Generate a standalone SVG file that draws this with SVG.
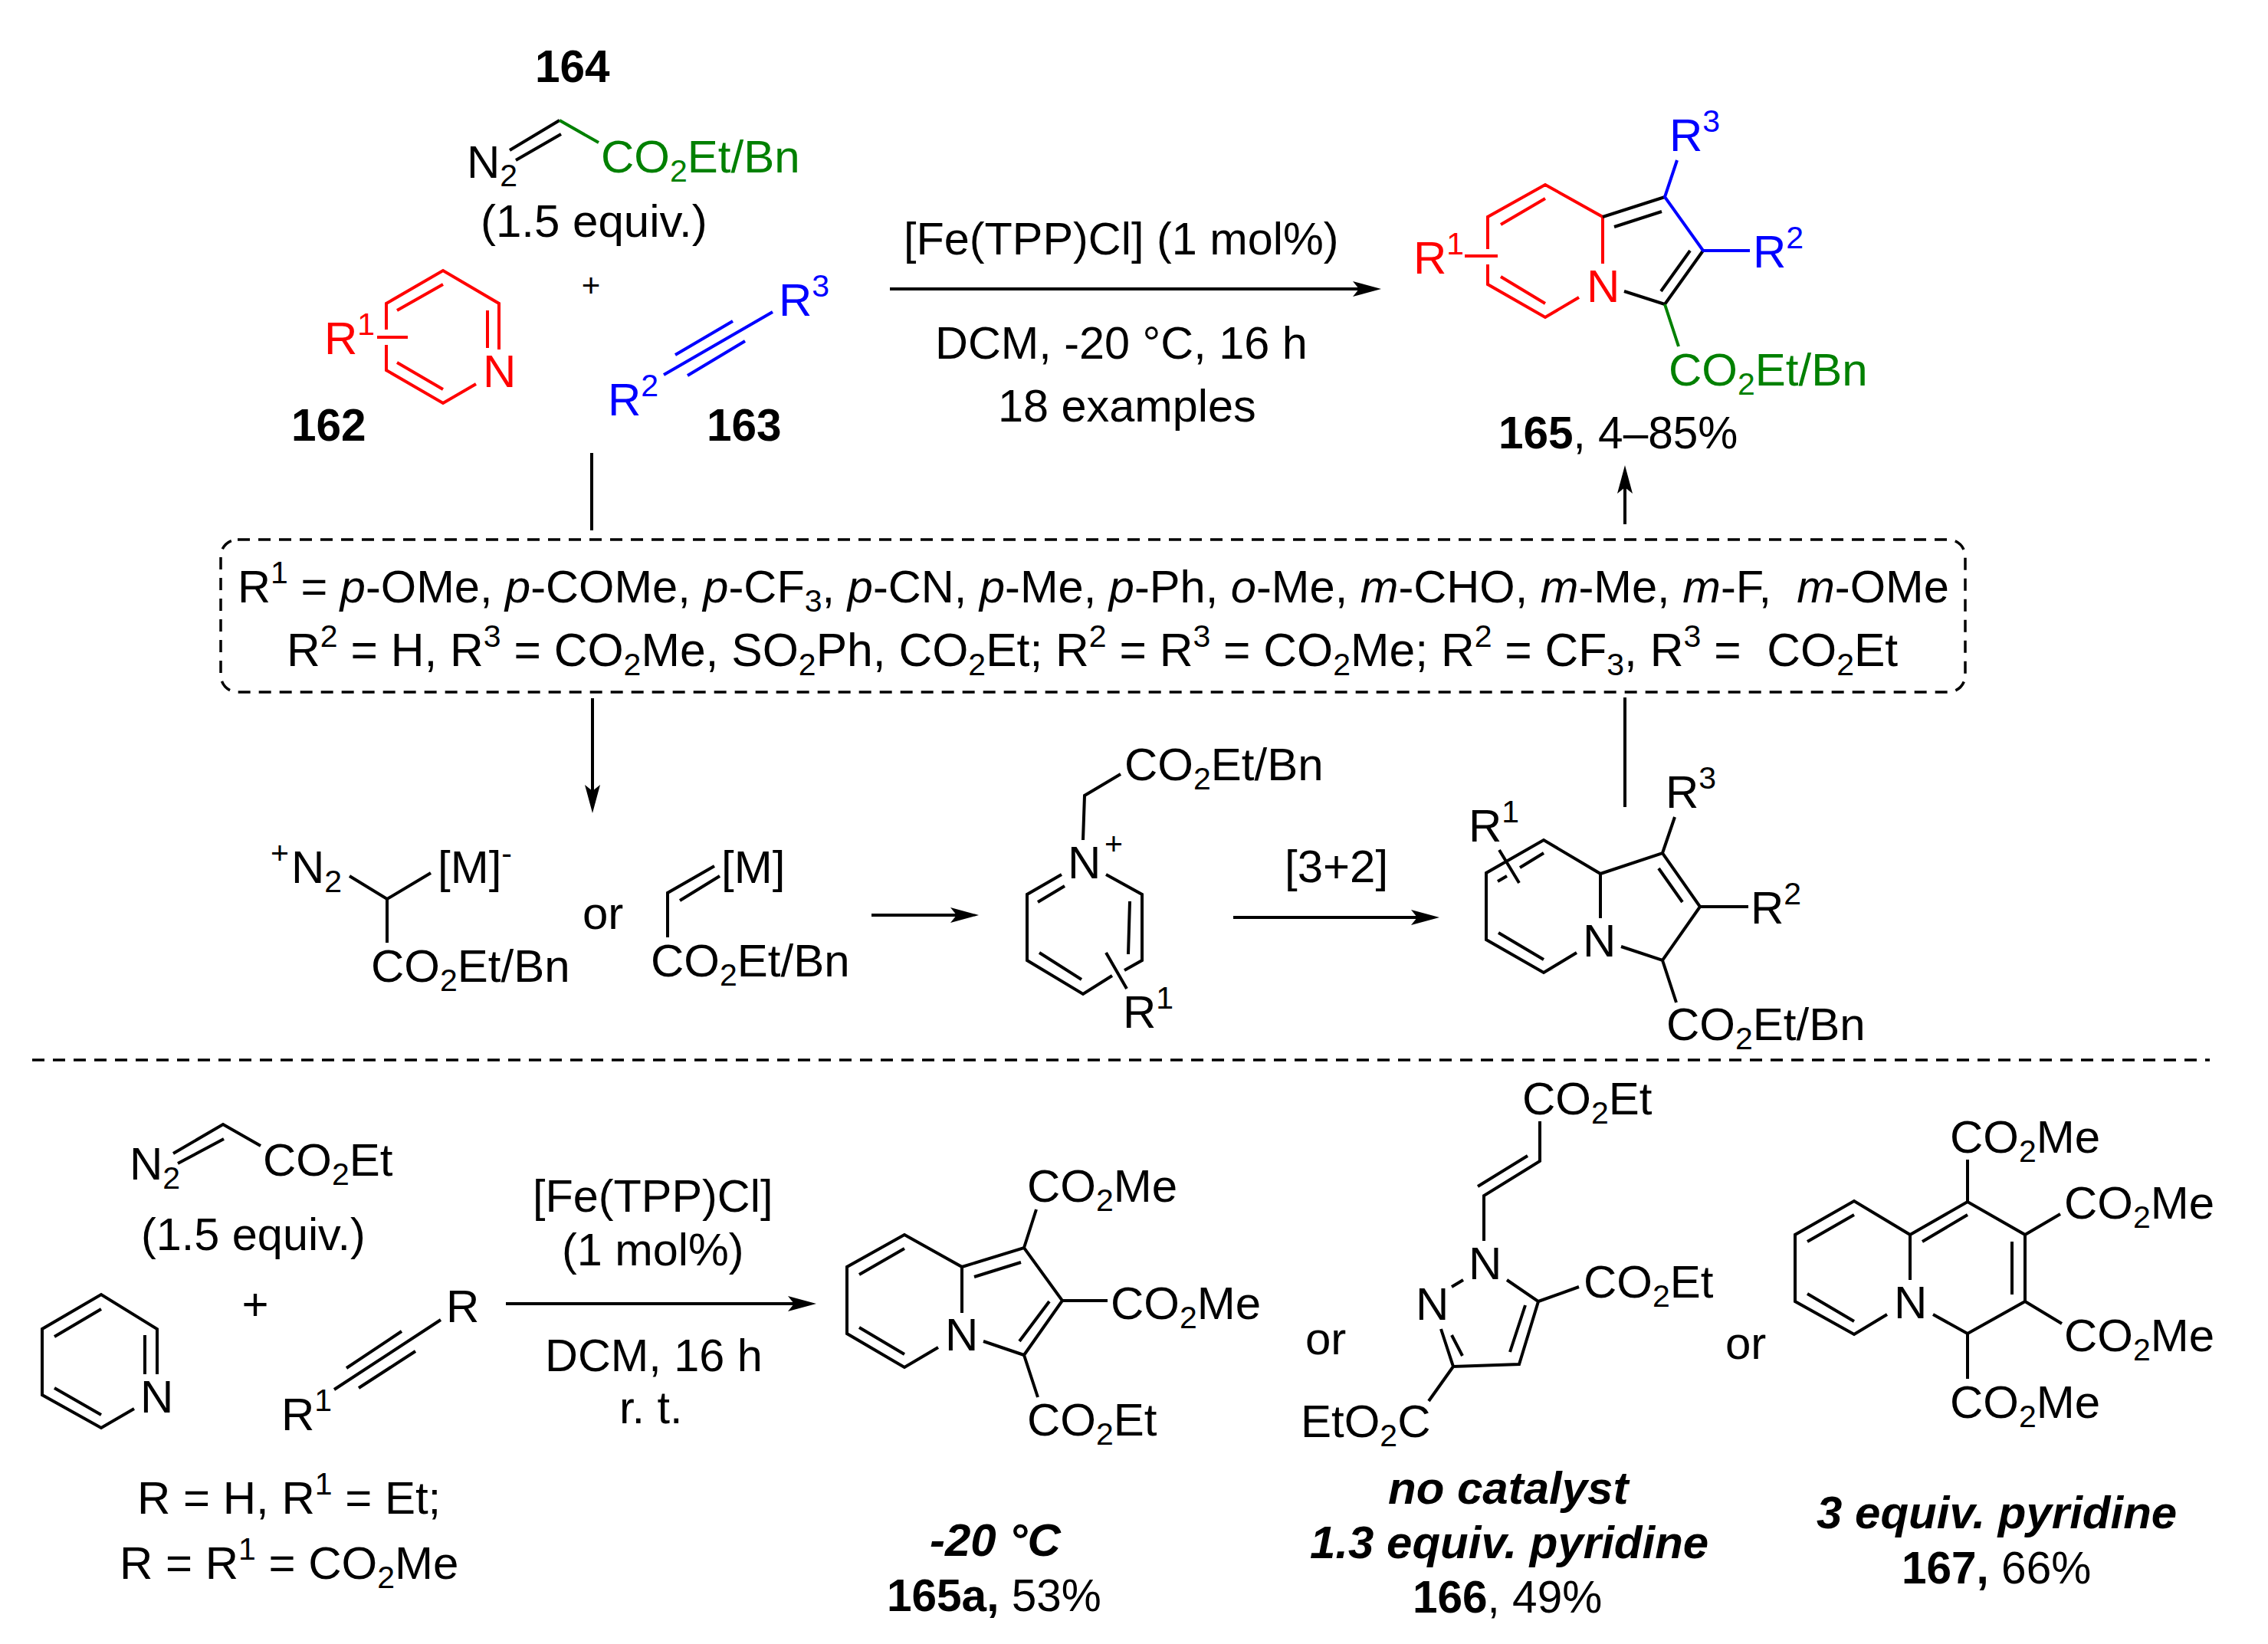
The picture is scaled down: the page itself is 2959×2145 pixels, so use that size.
<svg xmlns="http://www.w3.org/2000/svg" width="2959" height="2145" viewBox="0 0 2959 2145">
<style>
text{font-family:"Liberation Sans",Arial,sans-serif;font-size:60px;fill:#000}
.b{font-weight:700;font-size:58.5px}.bi{font-weight:700;font-style:italic}.i{font-style:italic}
.y{font-size:58.5px}
.c{font-size:59.4px}
.s{font-size:41px}
.red text{fill:#f00}.blue text{fill:#00f}text.grn{fill:#008000}
path{fill:none;stroke:#000;stroke-width:4}
.red path{stroke:#f00}.blue path{stroke:#00f}path.grn{stroke:#008000}
.dash{fill:none;stroke:#000;stroke-width:3.5;stroke-dasharray:16 11}
</style>
<defs>
<marker id="ah" markerUnits="userSpaceOnUse" markerWidth="37" markerHeight="20" viewBox="0 0 37 20" refX="27" refY="10" orient="auto"><polygon points="37,10 0,0 8,10 0,20" fill="#000"/></marker>
</defs>
<rect width="2959" height="2145" fill="#fff"/>

<g id="connectors">
<path d="M1161 377H1792" marker-end="url(#ah)"/>
<path d="M2120 684V617" marker-end="url(#ah)"/>
<path d="M772 591V692"/>
<path d="M773 911V1051" marker-end="url(#ah)"/>
<path d="M2120 910V1053"/>
<path d="M1137 1194H1267" marker-end="url(#ah)"/>
<path d="M1609 1197H1868" marker-end="url(#ah)"/>
<path d="M660 1701H1055" marker-end="url(#ah)"/>
<rect id="substituent-box" class="dash" x="288" y="704" width="2276" height="199" rx="22"/>
<path class="dash" d="M42 1383H2883"/>
</g>

<g id="n164">
<text class="b" x="698" y="107">164</text>
<text x="609" y="232">N<tspan class="s" dy="11">2</tspan></text>
<path d="M665 196L730 157M673 209L732 175"/>
<path class="grn" d="M730 157L781 186"/>
<text class="grn" x="784" y="225">CO<tspan class="s" dy="12">2</tspan><tspan dy="-12">Et/Bn</tspan></text>
<text x="627" y="309">(1.5 equiv.)</text>
</g>
<text id="plus1" x="771" y="387" text-anchor="middle" style="font-size:42px">+</text>

<g id="n162" class="red">
<path d="M504 430V396L578 353L651 396V456M636 405V454M621 501L578 526L504 483V450M518 405L578 371M518 473L578 508M492 440H532"/>
<text x="630" y="505">N</text>
<text x="423" y="462">R<tspan class="s" dy="-25">1</tspan></text>
</g>
<text class="b" x="380" y="575">162</text>

<g id="n163" class="blue">
<path d="M866 489L1008 407M881 463L956 419M897 490L972 445"/>
<text x="1016" y="412">R<tspan class="s" dy="-25">3</tspan></text>
<text x="793" y="542">R<tspan class="s" dy="-25">2</tspan></text>
</g>
<text class="b" x="922" y="575">163</text>

<g id="conditions-top">
<text class="c" x="1179" y="332">[Fe(TPP)Cl] (1 mol%)</text>
<text class="c" x="1220" y="468">DCM, -20 °C, 16 h</text>
<text class="c" x="1302" y="550">18 examples</text>
</g>

<g id="n165">
<g class="red">
<path d="M2091 344V283L2016 241L1941 283V325M1941 345V371L2016 414L2060 388M1958 293L2016 259M1958 361L2016 396M1911 334H1954"/>
<text x="2070" y="394">N</text>
<text x="1844" y="357">R<tspan class="s" dy="-25">1</tspan></text>
</g>
<path d="M2091 283L2172 257M2106 296L2168 276M2222 327L2172 397M2205 327L2167 380M2172 397L2119 380"/>
<g class="blue">
<path d="M2188 209L2172 257L2222 327H2283"/>
<text x="2178" y="197">R<tspan class="s" dy="-25">3</tspan></text>
<text x="2287" y="349">R<tspan class="s" dy="-25">2</tspan></text>
</g>
<path class="grn" d="M2172 397L2190 452"/>
<text class="grn" x="2177" y="503">CO<tspan class="s" dy="12">2</tspan><tspan dy="-12">Et/Bn</tspan></text>
<text class="y" x="1955" y="585"><tspan class="b">165</tspan>, 4–85%</text>
</g>

<g id="substituents">
<text style="font-size:59.6px" x="310" y="786">R<tspan class="s" dy="-25">1</tspan><tspan dy="25"> = </tspan><tspan class="i">p</tspan>-OMe, <tspan class="i">p</tspan>-COMe, <tspan class="i">p</tspan>-CF<tspan class="s" dy="12">3</tspan><tspan dy="-12">, </tspan><tspan class="i">p</tspan>-CN, <tspan class="i">p</tspan>-Me, <tspan class="i">p</tspan>-Ph, <tspan class="i">o</tspan>-Me, <tspan class="i">m</tspan>-CHO, <tspan class="i">m</tspan>-Me, <tspan class="i">m</tspan>-F,&#160; <tspan class="i">m</tspan>-OMe</text>
<text style="font-size:60.6px" x="374" y="869">R<tspan class="s" dy="-25">2</tspan><tspan dy="25"> = H, R</tspan><tspan class="s" dy="-25">3</tspan><tspan dy="25"> = CO</tspan><tspan class="s" dy="12">2</tspan><tspan dy="-12">Me, SO</tspan><tspan class="s" dy="12">2</tspan><tspan dy="-12">Ph, CO</tspan><tspan class="s" dy="12">2</tspan><tspan dy="-12">Et; R</tspan><tspan class="s" dy="-25">2</tspan><tspan dy="25"> = R</tspan><tspan class="s" dy="-25">3</tspan><tspan dy="25"> = CO</tspan><tspan class="s" dy="12">2</tspan><tspan dy="-12">Me; R</tspan><tspan class="s" dy="-25">2</tspan><tspan dy="25"> = CF</tspan><tspan class="s" dy="12">3</tspan><tspan dy="-12">, R</tspan><tspan class="s" dy="-25">3</tspan><tspan dy="25"> =&#160; CO</tspan><tspan class="s" dy="12">2</tspan><tspan dy="-12">Et</tspan></text>
</g>

<g id="carbene-a">
<path d="M456 1143L505 1173L562 1139M505 1173V1230"/>
<text class="s" x="353" y="1127">+</text>
<text x="380" y="1152">N<tspan class="s" dy="12">2</tspan></text>
<text x="571" y="1152">[M]<tspan class="s" dy="-25">-</tspan></text>
<text x="484" y="1281">CO<tspan class="s" dy="12">2</tspan><tspan dy="-12">Et/Bn</tspan></text>
</g>
<text x="760" y="1212">or</text>
<g id="carbene-b">
<path d="M871 1223V1165L932 1130M887 1175L939 1143"/>
<text x="941" y="1152">[M]</text>
<text x="849" y="1274">CO<tspan class="s" dy="12">2</tspan><tspan dy="-12">Et/Bn</tspan></text>
</g>

<g id="ylide">
<path d="M1413 1096L1415 1038L1462 1010M1385 1141L1340 1167V1253L1413 1297L1451 1273M1443 1141L1490 1167V1253L1467 1266M1354 1177L1389 1156M1356 1243L1411 1278M1474 1176L1472 1245M1443 1243L1470 1290"/>
<text x="1467" y="1018">CO<tspan class="s" dy="12">2</tspan><tspan dy="-12">Et/Bn</tspan></text>
<text x="1393" y="1146">N</text>
<text class="s" x="1441" y="1115">+</text>
<text x="1465" y="1341">R<tspan class="s" dy="-25">1</tspan></text>
</g>
<text id="cycloaddition" x="1676" y="1151">[3+2]</text>

<g id="dihydroindolizine">
<path d="M2088 1198V1140L2014 1096L1939 1139V1226L2014 1269L2057 1243M2088 1140L2169 1113L2218 1183L2169 1253L2115 1235M2164 1133L2195 1177M2014 1113L1983 1132M1966 1143L1954 1150M1956 1109L1982 1152M1955 1217L2014 1252M2169 1113L2185 1066M2218 1183H2281M2169 1253L2187 1308"/>
<text x="2065" y="1248">N</text>
<text x="1916" y="1098">R<tspan class="s" dy="-25">1</tspan></text>
<text x="2173" y="1054">R<tspan class="s" dy="-25">3</tspan></text>
<text x="2284" y="1205">R<tspan class="s" dy="-25">2</tspan></text>
<text x="2174" y="1357">CO<tspan class="s" dy="12">2</tspan><tspan dy="-12">Et/Bn</tspan></text>
</g>

<g id="diazo-bottom">
<path d="M226 1505L291 1467L340 1495M232 1518L292 1486"/>
<text x="169" y="1539">N<tspan class="s" dy="12">2</tspan></text>
<text x="343" y="1534">CO<tspan class="s" dy="12">2</tspan><tspan dy="-12">Et</tspan></text>
<text class="c" x="184" y="1631">(1.5 equiv.)</text>
</g>
<text id="plus2" x="333" y="1722" text-anchor="middle">+</text>
<g id="pyridine-bottom">
<path d="M205 1793V1734L132 1689L55 1734V1820L132 1863L175 1838M189 1742V1793M71 1744L132 1708M71 1811L132 1846"/>
<text x="183" y="1843">N</text>
</g>
<g id="alkyne-bottom">
<path d="M436 1813L575 1722M452 1785L524 1737M468 1811L542 1763"/>
<text x="582" y="1725">R</text>
<text x="367" y="1866">R<tspan class="s" dy="-25">1</tspan></text>
<text x="179" y="1975">R = H, R<tspan class="s" dy="-25">1</tspan><tspan dy="25"> = Et;</tspan></text>
<text x="156" y="2060">R = R<tspan class="s" dy="-25">1</tspan><tspan dy="25"> = CO</tspan><tspan class="s" dy="12">2</tspan><tspan dy="-12">Me</tspan></text>
</g>
<g id="conditions-bottom">
<text class="c" x="695" y="1581">[Fe(TPP)Cl]</text>
<text class="c" x="733" y="1651">(1 mol%)</text>
<text class="c" x="711" y="1789">DCM, 16 h</text>
<text class="c" x="808" y="1857">r. t.</text>
</g>

<g id="n165a">
<path d="M1255 1713V1653L1180 1611L1105 1653V1740L1180 1784L1224 1758M1121 1663L1180 1629M1121 1732L1180 1767M1255 1653L1336 1628L1386 1697L1336 1768L1283 1750M1271 1666L1332 1647M1369 1698L1330 1750M1336 1628L1352 1578M1386 1697H1445M1336 1768L1354 1823"/>
<text x="1233" y="1762">N</text>
<text x="1340" y="1568">CO<tspan class="s" dy="12">2</tspan><tspan dy="-12">Me</tspan></text>
<text x="1449" y="1721">CO<tspan class="s" dy="12">2</tspan><tspan dy="-12">Me</tspan></text>
<text x="1340" y="1873">CO<tspan class="s" dy="12">2</tspan><tspan dy="-12">Et</tspan></text>
<text class="bi" x="1213" y="2030">-20 °C</text>
<text class="y" x="1157" y="2102"><tspan class="b">165a,</tspan> 53%</text>
</g>
<text x="1703" y="1767">or</text>

<g id="n166">
<path d="M1936 1619L1936 1560L2009 1515V1463M1928 1548L1993 1508M1894 1679L1909 1670M1880 1734L1896 1783L1982 1780L2007 1698L1966 1670M1894 1742L1908 1769M1970 1764L1990 1703M2007 1698L2060 1679M1896 1783L1864 1828"/>
<text x="1916" y="1669">N</text>
<text x="1847" y="1722">N</text>
<text x="1986" y="1454">CO<tspan class="s" dy="12">2</tspan><tspan dy="-12">Et</tspan></text>
<text x="2066" y="1693">CO<tspan class="s" dy="12">2</tspan><tspan dy="-12">Et</tspan></text>
<text x="1697" y="1875">EtO<tspan class="s" dy="12">2</tspan><tspan dy="-12">C</tspan></text>
<text class="bi" x="1811" y="1962">no catalyst</text>
<text class="bi" x="1709" y="2033">1.3 equiv. pyridine</text>
<text class="y" x="1843" y="2104"><tspan class="b">166</tspan>, 49%</text>
</g>
<text x="2251" y="1773">or</text>

<g id="n167">
<path d="M2492 1670V1611L2419 1567L2342 1611V1698L2419 1741L2462 1715M2358 1620L2419 1585M2358 1688L2419 1724M2492 1611L2567 1568L2642 1611V1698L2567 1740L2522 1715M2508 1620L2567 1585M2625 1620V1689M2567 1568V1513M2642 1611L2688 1584M2642 1698L2690 1727M2567 1740V1799"/>
<text x="2471" y="1720">N</text>
<text x="2544" y="1504">CO<tspan class="s" dy="12">2</tspan><tspan dy="-12">Me</tspan></text>
<text x="2693" y="1590">CO<tspan class="s" dy="12">2</tspan><tspan dy="-12">Me</tspan></text>
<text x="2693" y="1763">CO<tspan class="s" dy="12">2</tspan><tspan dy="-12">Me</tspan></text>
<text x="2544" y="1850">CO<tspan class="s" dy="12">2</tspan><tspan dy="-12">Me</tspan></text>
<text class="bi" x="2370" y="1994">3 equiv. pyridine</text>
<text class="y" x="2481" y="2066"><tspan class="b">167,</tspan> 66%</text>
</g>
</svg>
